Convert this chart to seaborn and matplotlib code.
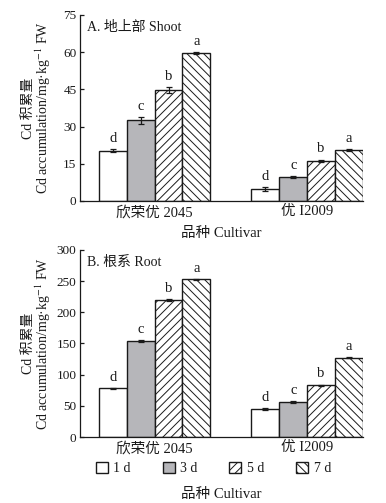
import matplotlib
matplotlib.use("Agg")
import matplotlib.pyplot as plt
import seaborn as sns
import pandas as pd
import numpy as np

cultivars = ['欣荣优 2045', '优 I2009']
days = ['1 d', '3 d', '5 d', '7 d']
shoot = [[20.2, 32.5, 44.8, 59.6], [4.8, 9.8, 16.2, 20.5]]
shoot_err = [[0.6, 1.3, 1.2, 0.5], [0.9, 0.4, 0.5, 0.5]]
root = [[78, 154, 220, 253], [45, 56, 83, 127]]
root_err = [[1.0, 1.5, 1.5, 0.5], [1.0, 1.5, 1.0, 0.5]]
letters = [['d', 'c', 'b', 'a'], ['d', 'c', 'b', 'a']]
shoot_ticks = [0, 15, 30, 45, 60, 75]
root_ticks = [0, 50, 100, 150, 200, 250, 300]

sns.set_theme(style="white")
plt.rcParams['font.family'] = ['Liberation Serif', 'Noto Sans CJK SC']
plt.rcParams['mathtext.fontset'] = 'stix'
plt.rcParams['hatch.linewidth'] = 0.7
plt.rcParams['hatch.color'] = '#1a1a1a'

TXT = '#1a1a1a'
face = ['white', '#b6b6ba', 'white', 'white']
hatches = ['', '', '////', '\\\\\\\\']
ylabel = 'Cd 积累量\nCd accumulation/mg·kg$^{-1}$ FW'

fig = plt.figure(figsize=(3.86, 5.03), dpi=100)
ax1 = fig.add_axes([0.207, 0.6004, 0.733, 0.370])
ax2 = fig.add_axes([0.207, 0.1312, 0.733, 0.372])


def make_df(vals):
    rows = []
    for i, c in enumerate(cultivars):
        for j, d in enumerate(days):
            rows.append({'cultivar': c, 'day': d, 'value': vals[i][j]})
    return pd.DataFrame(rows)


def draw(ax, vals, errs, ticks, title):
    df = make_df(vals)
    sns.barplot(data=df, x='cultivar', y='value', hue='day', order=cultivars,
                hue_order=days, palette=face, width=0.73, errorbar=None,
                legend=False, ax=ax, edgecolor='#1a1a1a', linewidth=1.0,
                saturation=1)
    bars = list(ax.containers)
    for j, cont in enumerate(bars):
        for i, p in enumerate(cont.patches):
            p.set_hatch(hatches[j])
            p.set_facecolor(face[j])
            p.set_edgecolor('#1a1a1a')
            cx = p.get_x() + p.get_width() / 2
            top = p.get_height()
            e = errs[i][j]
            ax.errorbar(cx, top, yerr=e, color='#1a1a1a', capsize=2.2,
                        elinewidth=0.9, capthick=0.9, zorder=5)
            ax.annotate(letters[i][j], (cx, top + e), xytext=(0, 3),
                        textcoords='offset points', ha='center', va='bottom',
                        fontsize=10.5, color=TXT)
    ax.set_xlim(-0.49, 1.365)
    ax.set_ylim(ticks[0], ticks[-1])
    ax.set_yticks(ticks)
    ax.set_yticklabels([str(t) for t in ticks], fontsize=9.5, color=TXT)
    ax.tick_params(axis='y', direction='in', length=3, width=0.9, left=True,
                   pad=2.5, colors=TXT)
    ax.tick_params(axis='x', length=0, pad=3, labelsize=10.5, colors=TXT)
    for lab in ax.get_xticklabels():
        lab.set_color(TXT)
    sns.despine(ax=ax)
    for s in ['left', 'bottom']:
        ax.spines[s].set_color('#1a1a1a')
        ax.spines[s].set_linewidth(0.9)
    ax.set_ylabel(ylabel, fontsize=10, color=TXT, linespacing=0.92)
    ax.yaxis.set_label_coords(-0.094, 0.5)
    ax.text(0.025, 0.965, title, transform=ax.transAxes, ha='left', va='top',
            fontsize=10, color=TXT)
    return bars


draw(ax1, shoot, shoot_err, shoot_ticks, 'A. 地上部 Shoot')
bars2 = draw(ax2, root, root_err, root_ticks, 'B. 根系 Root')

ax1.set_xlabel('品种 Cultivar', fontsize=10.5, color=TXT, labelpad=6)
ax2.set_xlabel('品种 Cultivar', fontsize=10.5, color=TXT, labelpad=24)

fig.legend(bars2, days, loc='center', bbox_to_anchor=(0.553, 0.068),
           ncol=4, frameon=False, fontsize=10, handlelength=0.85,
           handleheight=0.85, columnspacing=2.3, handletextpad=0.4,
           labelcolor=TXT)

fig.savefig('out.png', dpi=100)
